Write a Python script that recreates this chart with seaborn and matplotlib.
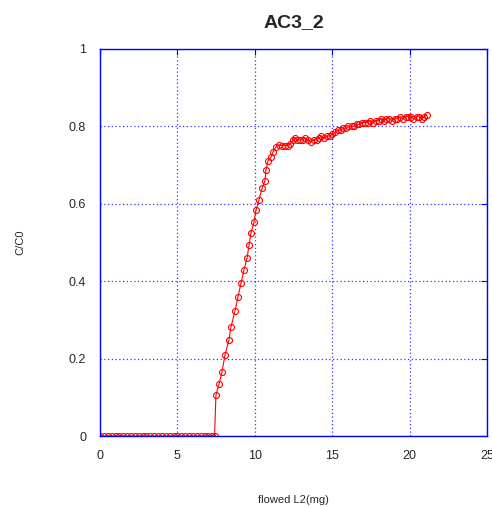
import numpy as np
import pandas as pd
import matplotlib
matplotlib.use("Agg")
import matplotlib.pyplot as plt
import seaborn as sns
from matplotlib.ticker import FuncFormatter

sns.set_style("white")
plt.rcParams['font.family'] = ['Liberation Sans', 'DejaVu Sans']

# --- dane ---
x_zero = [0.0, 0.25, 0.5, 0.75, 1.0, 1.25, 1.5, 1.75, 2.0, 2.25, 2.5, 2.75,
          3.0, 3.25, 3.5, 3.75, 4.0, 4.25, 4.5, 4.75, 5.0, 5.25, 5.5, 5.75,
          6.0, 6.25, 6.5, 6.75, 7.0, 7.25, 7.4]
y_zero = [0.0] * len(x_zero)

x_rise = [7.49, 7.69, 7.88, 8.07, 8.33, 8.46, 8.72, 8.91, 9.11, 9.30, 9.50,
          9.63, 9.75, 9.95, 10.08, 10.27, 10.47, 10.66, 10.72, 10.85, 11.05,
          11.18, 11.37, 11.56]
y_rise = [0.106, 0.134, 0.165, 0.209, 0.248, 0.282, 0.323, 0.359, 0.395, 0.429,
          0.46, 0.494, 0.525, 0.553, 0.584, 0.61, 0.64, 0.66, 0.687, 0.711,
          0.721, 0.734, 0.747, 0.752]

x_plat = [11.75, 11.95, 12.15, 12.3, 12.45, 12.6, 12.75, 12.9, 13.1, 13.25,
          13.45, 13.6, 13.8, 14.0, 14.15, 14.3, 14.5, 14.65, 14.85, 15.0,
          15.2, 15.35, 15.55, 15.7, 15.9, 16.05, 16.25, 16.4, 16.6, 16.75,
          16.95, 17.1, 17.3, 17.45, 17.65, 17.8, 18.0, 18.15, 18.35, 18.5,
          18.7, 18.85, 19.05, 19.2, 19.4, 19.55, 19.75, 19.9, 20.1, 20.25,
          20.45, 20.6, 20.8, 20.95, 21.1]
y_plat = [0.75, 0.75, 0.75, 0.755, 0.765, 0.77, 0.765, 0.765, 0.765, 0.77,
          0.765, 0.76, 0.765, 0.765, 0.77, 0.775, 0.77, 0.775, 0.775, 0.78,
          0.785, 0.79, 0.79, 0.795, 0.795, 0.80, 0.80, 0.80, 0.805, 0.805,
          0.81, 0.81, 0.81, 0.815, 0.81, 0.815, 0.815, 0.82, 0.815, 0.82,
          0.82, 0.815, 0.82, 0.82, 0.825, 0.82, 0.825, 0.825, 0.825, 0.82,
          0.825, 0.825, 0.82, 0.825, 0.83]

x_ticks = [0, 5, 10, 15, 20, 25]
y_ticks = [0, 0.2, 0.4, 0.6, 0.8, 1]

df = pd.DataFrame({
    "flowed": x_zero + x_rise + x_plat,
    "CC0": y_zero + y_rise + y_plat,
})

# --- wykres ---
fig = plt.figure(figsize=(4.92, 5.07), dpi=100)
ax = fig.add_axes([0.2033, 0.140, 0.7865, 0.7634])

sns.lineplot(data=df, x="flowed", y="CC0", ax=ax, color="red", linewidth=0.8,
             marker="o", markersize=4.3, markerfacecolor="none",
             markeredgecolor="red", markeredgewidth=0.8, sort=False)

ax.set_xlim(0, 25)
ax.set_ylim(0, 1)
ax.set_xticks(x_ticks)
ax.set_yticks(y_ticks)
ax.yaxis.set_major_formatter(FuncFormatter(lambda v, p: f"{v:g}"))

ax.grid(True, color="blue", linestyle=(0, (1, 2)), linewidth=0.9, alpha=0.8)
for s in ax.spines.values():
    s.set_color("blue")
    s.set_linewidth(1.0)
ax.tick_params(direction="in", length=4, color="blue", labelsize=9,
               top=True, right=True, pad=10)

ax.set_title("AC3_2", fontsize=14, fontweight="bold", pad=16)
ax.set_xlabel("flowed L2(mg)", fontsize=8, labelpad=24)
ax.set_ylabel("C/C0", fontsize=8, labelpad=31)

fig.savefig("out.png", dpi=100)
